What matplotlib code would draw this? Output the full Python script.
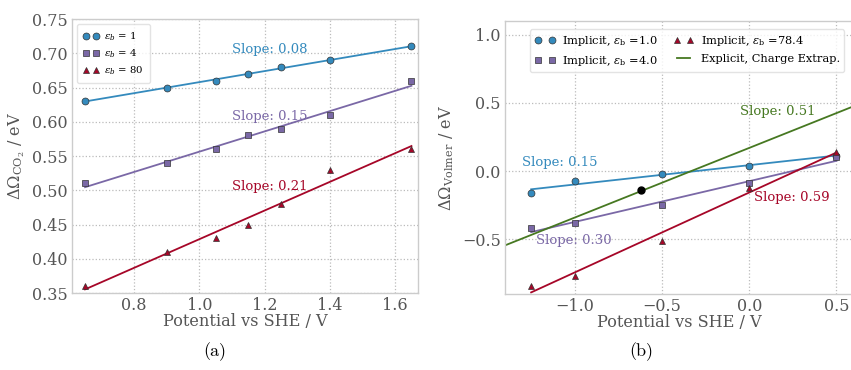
import numpy as np
import matplotlib
matplotlib.use("Agg")
import matplotlib.pyplot as plt

plt.rcParams['font.family'] = ['DejaVu Serif']
plt.rcParams['mathtext.fontset'] = 'dejavuserif'

BLUE, PURPLE, RED, GREEN = '#348ABD', '#7A68A6', '#A60628', '#467821'
TXT = '#555555'

# Panel (a)
xa = [0.65, 0.9, 1.05, 1.15, 1.25, 1.4, 1.65]
a_eps1 = [0.63, 0.65, 0.66, 0.67, 0.68, 0.69, 0.71]
a_eps4 = [0.51, 0.54, 0.56, 0.58, 0.59, 0.61, 0.66]
a_eps80 = [0.36, 0.41, 0.43, 0.45, 0.48, 0.53, 0.56]
a_labels = [r'$\epsilon_b$ = 1', r'$\epsilon_b$ = 4', r'$\epsilon_b$ = 80']
a_slopes = ['Slope: 0.08', 'Slope: 0.15', 'Slope: 0.21']

# Panel (b)
xb = [-1.25, -1.0, -0.5, 0.0, 0.5]
b_eps1 = [-0.16, -0.07, -0.02, 0.04, 0.11]
b_eps4 = [-0.42, -0.38, -0.25, -0.09, 0.10]
b_eps78 = [-0.84, -0.77, -0.51, -0.12, 0.14]
b_labels = [r'Implicit, $\epsilon_{\mathrm{b}}$ =1.0', r'Implicit, $\epsilon_{\mathrm{b}}$ =4.0',
            r'Implicit, $\epsilon_{\mathrm{b}}$ =78.4', 'Explicit, Charge Extrap.']
explicit_slope = 0.51
explicit_intercept = 0.17
explicit_point = (-0.62, -0.14)
b_slopes = ['Slope: 0.15', 'Slope: 0.30', 'Slope: 0.59', 'Slope: 0.51']

fig = plt.figure(figsize=(8.51, 3.70), dpi=100)
axa = fig.add_axes([0.0846, 0.208, 0.4066, 0.7405])
axb = fig.add_axes([0.5934, 0.2054, 0.41, 0.738])

TICKFS = 11.5
LABFS = 11.6
SLFS = 9.5

def style(ax):
    ax.set_facecolor('white')
    for s in ax.spines.values():
        s.set_color('#cccccc')
        s.set_linewidth(1.0)
    ax.grid(True, linestyle=':', color='#bbbbbb', linewidth=0.9)
    ax.set_axisbelow(True)
    ax.tick_params(length=0, labelsize=TICKFS, colors=TXT, pad=3)

def fitline(ax, x, y, color):
    p = np.polyfit(x, y, 1)
    xx = np.array([min(x), max(x)])
    ax.plot(xx, np.polyval(p, xx), color=color, lw=1.3, zorder=2)

mk = dict(markeredgecolor='#333333', markeredgewidth=0.5, linestyle='none', zorder=3)

# --- (a)
style(axa)
for y, c, m, lab in zip([a_eps1, a_eps4, a_eps80], [BLUE, PURPLE, RED], ['o', 's', '^'], a_labels):
    axa.plot(xa, y, marker=m, color=c, markersize=5, label=lab, **mk)
    fitline(axa, xa, y, c)
axa.text(1.10, 0.706, a_slopes[0], color=BLUE, fontsize=SLFS, va='center')
axa.text(1.10, 0.608, a_slopes[1], color=PURPLE, fontsize=SLFS, va='center')
axa.text(1.10, 0.505, a_slopes[2], color=RED, fontsize=SLFS, va='center')
axa.set_xlim(0.61, 1.67)
axa.set_ylim(0.35, 0.75)
axa.set_xticks([0.8, 1.0, 1.2, 1.4, 1.6])
axa.set_yticks(np.arange(0.35, 0.751, 0.05))
axa.yaxis.set_major_formatter(matplotlib.ticker.FormatStrFormatter('%.2f'))
axa.set_xlabel('Potential vs SHE / V', fontsize=LABFS, color=TXT, labelpad=-1)
axa.set_ylabel(r'$\Delta\Omega_{\mathrm{CO_2}}$ / eV', fontsize=LABFS, color=TXT, labelpad=4)
leg = axa.legend(loc='upper left', numpoints=2, fontsize=7.3, frameon=True, borderpad=0.6,
                 handletextpad=0.5, labelspacing=0.45, handlelength=1.6)
leg.get_frame().set_edgecolor('#dddddd')

# --- (b)
style(axb)
for y, c, m, lab in zip([b_eps1, b_eps4, b_eps78], [BLUE, PURPLE, RED], ['o', 's', '^'], b_labels[:3]):
    axb.plot(xb, y, marker=m, color=c, markersize=5, label=lab, **mk)
    fitline(axb, xb, y, c)
axb.axline((0, explicit_intercept), slope=explicit_slope, color=GREEN, lw=1.3, label=b_labels[3], zorder=2)
axb.plot([explicit_point[0]], [explicit_point[1]], 'o', color='black', markersize=5, zorder=4)
axb.text(-1.30, 0.06, b_slopes[0], color=BLUE, fontsize=SLFS, va='center')
axb.text(-1.22, -0.51, b_slopes[1], color=PURPLE, fontsize=SLFS, va='center')
axb.text(0.025, -0.19, b_slopes[2], color=RED, fontsize=SLFS, va='center')
axb.text(-0.05, 0.44, b_slopes[3], color=GREEN, fontsize=SLFS, va='center')
axb.set_xlim(-1.4, 0.6)
axb.set_ylim(-0.9, 1.1)
axb.set_xticks([-1.0, -0.5, 0.0, 0.5])
axb.set_yticks([-0.5, 0.0, 0.5, 1.0])
axb.set_xlabel('Potential vs SHE / V', fontsize=LABFS, color=TXT, labelpad=-1)
axb.set_ylabel(r'$\Delta\Omega_{\mathrm{Volmer}}$ / eV', fontsize=LABFS, color=TXT, labelpad=4)
h, l = axb.get_legend_handles_labels()
legb = axb.legend(h, l, loc='upper left',
                  bbox_to_anchor=(0.055, 0.99), ncol=2, numpoints=2, fontsize=8.2,
                  frameon=True, borderpad=0.4, handletextpad=0.6, columnspacing=1.4,
                  labelspacing=0.5, handlelength=1.8)
legb.get_frame().set_edgecolor('#dddddd')

fig.text(215/851, 1 - 352/370, '(a)', fontsize=13, ha='center', va='center', family='cmr10')
fig.text(641/851, 1 - 352/370, '(b)', fontsize=13, ha='center', va='center', family='cmr10')

fig.savefig('out.png', dpi=100, facecolor='white')
